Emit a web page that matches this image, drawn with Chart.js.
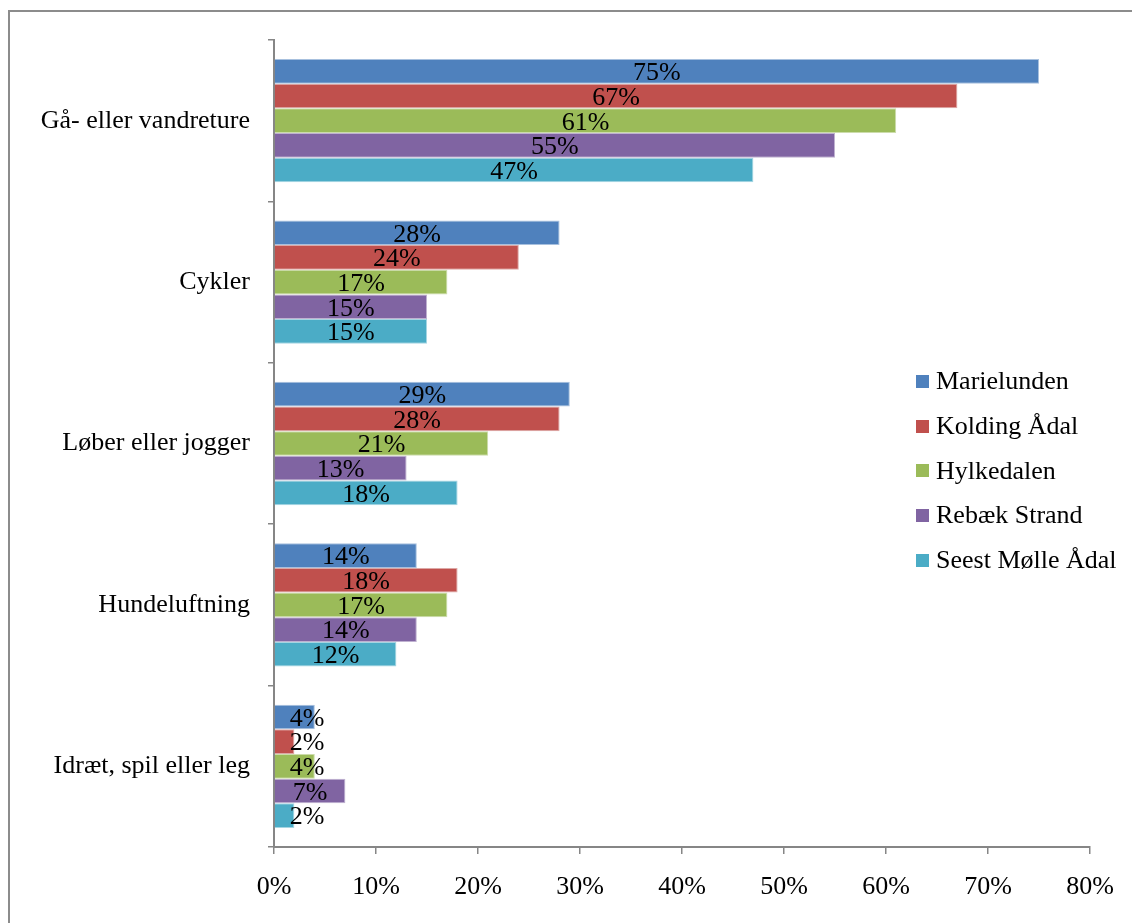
<!DOCTYPE html>
<html lang="da">
<head>
<meta charset="utf-8">
<title>Aktiviteter i naturområderne</title>
<script src="https://cdn.jsdelivr.net/npm/chart.js@4/dist/chart.umd.min.js"></script>
<style>
  html, body { margin: 0; padding: 0; background: #fff; }
  body { width: 1132px; height: 923px; position: relative; overflow: hidden;
         font-family: "Liberation Serif", "Times New Roman", serif; }
  #frame { position: absolute; left: 8px; top: 10px; width: 1200px; height: 1000px;
           border-left: 2px solid #8c8c8c; border-top: 2px solid #8c8c8c; }
  #chart { position: absolute; left: 0; top: 0; }
  #legend { position: absolute; left: 916px; top: 359px; }
  .item { display: flex; align-items: center; height: 44.7px; font-size: 26px; color: #000; white-space: nowrap; }
  .box { width: 13px; height: 13px; margin-right: 7px; }
</style>
</head>
<body>
<div id="frame"></div>
<canvas id="chart" width="1132" height="923"></canvas>
<div id="legend"></div>
<script>
// Aktiviteter pr. område (andel af besøgende, %)
const categories = ['Gå- eller vandreture', 'Cykler', 'Løber eller jogger', 'Hundeluftning', 'Idræt, spil eller leg'];
const areaNames = ['Marielunden', 'Kolding Ådal', 'Hylkedalen', 'Rebæk Strand', 'Seest Mølle Ådal'];
const marielunden = [75, 28, 29, 14, 4];
const koldingAadal = [67, 24, 28, 18, 2];
const hylkedalen = [61, 17, 21, 17, 4];
const rebaekStrand = [55, 15, 13, 14, 7];
const seestMolleAadal = [47, 15, 18, 12, 2];
const xTicks = [0, 10, 20, 30, 40, 50, 60, 70, 80];

const seriesValues = [marielunden, koldingAadal, hylkedalen, rebaekStrand, seestMolleAadal];
const fills = ['#4F81BD', '#C0504D', '#9BBB59', '#8064A2', '#4BACC6'];
const edges = ['#A7C0DE', '#DDA8A6', '#CCDCAB', '#BFB1D0', '#A5D5E2'];
const FONT = '"Liberation Serif", "Times New Roman", serif';
const AXIS = '#868686';

// values printed in the middle of each bar, kept clear of the axis for short bars
const barLabels = {
  id: 'barLabels',
  afterDatasetsDraw(chart) {
    const ctx = chart.ctx;
    const left = chart.scales.x.left;
    ctx.save();
    ctx.font = '26px ' + FONT;
    ctx.fillStyle = '#000';
    ctx.textAlign = 'center';
    ctx.textBaseline = 'middle';
    chart.data.datasets.forEach((ds, i) => {
      chart.getDatasetMeta(i).data.forEach((bar, j) => {
        const cx = Math.max((bar.base + bar.x) / 2, left + 33);
        ctx.fillText(ds.data[j] + '%', cx, bar.y + 2);
      });
    });
    ctx.restore();
  }
};

new Chart(document.getElementById('chart'), {
  type: 'bar',
  data: {
    labels: categories,
    datasets: areaNames.map((name, i) => ({
      label: name,
      data: seriesValues[i],
      backgroundColor: fills[i],
      borderColor: edges[i],
      borderWidth: 1,
      categoryPercentage: 0.764,
      barPercentage: 1.0
    }))
  },
  options: {
    indexAxis: 'y',
    responsive: false,
    animation: false,
    events: [],
    layout: { padding: { top: 40, right: 42, bottom: 0, left: 0 } },
    plugins: { legend: { display: false }, tooltip: { enabled: false } },
    scales: {
      x: {
        min: 0,
        max: 80,
        afterFit(scale) { scale.height = 76; },
        afterBuildTicks(scale) { scale.ticks = xTicks.map(v => ({ value: v })); },
        grid: { drawOnChartArea: false, color: AXIS, lineWidth: 1.5, tickLength: 7 },
        border: { color: AXIS, width: 2 },
        ticks: {
          color: '#000',
          font: { family: FONT, size: 26 },
          padding: 18,
          maxRotation: 0,
          callback: v => v + '%'
        }
      },
      y: {
        afterFit(scale) { scale.width = 274; },
        grid: { drawOnChartArea: false, color: AXIS, lineWidth: 1.5, tickLength: 6, offset: true },
        border: { color: AXIS, width: 2 },
        ticks: {
          color: '#000',
          font: { family: FONT, size: 26 },
          padding: 18
        }
      }
    }
  },
  plugins: [barLabels]
});

// legend drawn beside the bars
const legend = document.getElementById('legend');
areaNames.forEach((name, i) => {
  const row = document.createElement('div');
  row.className = 'item';
  const box = document.createElement('span');
  box.className = 'box';
  box.style.background = fills[i];
  row.appendChild(box);
  row.appendChild(document.createTextNode(name));
  legend.appendChild(row);
});
</script>
</body>
</html>
